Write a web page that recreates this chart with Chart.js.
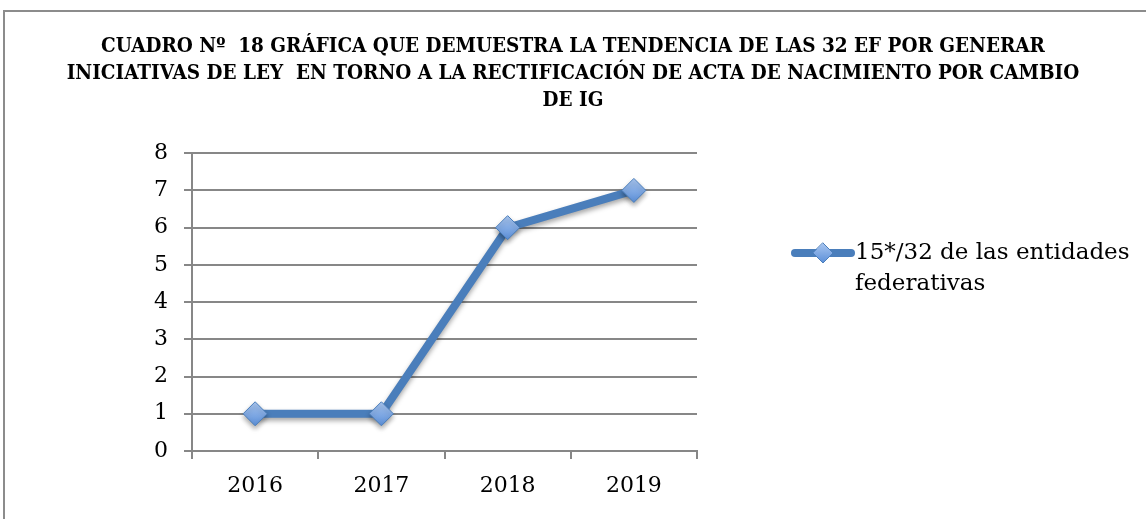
<!DOCTYPE html>
<html>
<head>
<meta charset="utf-8">
<script src="https://cdn.jsdelivr.net/npm/chart.js@4/dist/chart.umd.min.js"></script>
<style>
  html, body { margin: 0; padding: 0; background: #fff; overflow: hidden; }
  #wrap { position: relative; width: 1146px; height: 519px; }
  #frame { position: absolute; left: 3px; top: 10px; width: 1200px; height: 600px; border: 2px solid #8c8c8c; box-sizing: border-box; }
  canvas { position: absolute; left: 0; top: 0; }
</style>
</head>
<body>
<div id="wrap">
  <div id="frame"></div>
  <canvas id="chart" width="1146" height="519"></canvas>
</div>
<script>
// data
var years = ['2016', '2017', '2018', '2019'];
var entidades = [1, 1, 6, 7];
var seriesLabel = ['15*/32 de las entidades', 'federativas'];
var titleLines = [
  'CUADRO Nº  18 GRÁFICA QUE DEMUESTRA LA TENDENCIA DE LAS 32 EF POR GENERAR',
  'INICIATIVAS DE LEY  EN TORNO A LA RECTIFICACIÓN DE ACTA DE NACIMIENTO POR CAMBIO',
  'DE IG'
];

var lineBlue = '#4a7ebb';
var gridGray = '#878787';
var serif = "'DejaVu Serif', 'Liberation Serif', serif";

function diamondFill(context) {
  var el = context.element;
  var c = context.chart.ctx;
  if (!el || el.x === undefined) return '#7aa5e2';
  var g = c.createLinearGradient(el.x, el.y - 12, el.x, el.y + 12);
  g.addColorStop(0, '#a9c6f0');
  g.addColorStop(1, '#5b8fd8');
  return g;
}

// soft shadow under the line and markers
var shadow = {
  id: 'shadow',
  beforeDatasetsDraw: function (chart) {
    var c = chart.ctx;
    c.save();
    c.shadowColor = 'rgba(0,0,0,0.35)';
    c.shadowBlur = 5;
    c.shadowOffsetY = 3;
  },
  afterDatasetsDraw: function (chart) { chart.ctx.restore(); }
};

// legend drawn by hand so it can wrap over two lines like the original
var sideLegend = {
  id: 'sideLegend',
  afterDraw: function (chart) {
    var c = chart.ctx;
    var ds = chart.data.datasets[0];
    var x0 = chart.chartArea.right + 98, y0 = 253;
    c.save();
    c.strokeStyle = lineBlue;
    c.lineWidth = 8;
    c.lineCap = 'round';
    c.beginPath();
    c.moveTo(x0, y0);
    c.lineTo(x0 + 56, y0);
    c.stroke();
    var cx = x0 + 28, r = 10;
    var g = c.createLinearGradient(cx, y0 - r, cx, y0 + r);
    g.addColorStop(0, '#a9c6f0');
    g.addColorStop(1, '#5b8fd8');
    c.fillStyle = g;
    c.strokeStyle = lineBlue;
    c.lineWidth = 1;
    c.beginPath();
    c.moveTo(cx, y0 - r); c.lineTo(cx + r, y0); c.lineTo(cx, y0 + r); c.lineTo(cx - r, y0);
    c.closePath();
    c.fill(); c.stroke();
    c.fillStyle = '#000';
    c.font = '23px ' + serif;
    c.textBaseline = 'middle';
    c.textAlign = 'left';
    ds.label.forEach(function (t, i) {
      c.fillText(t, x0 + 60, y0 + i * 31);
    });
    c.restore();
  }
};

var ctx = document.getElementById('chart').getContext('2d');
var chart = new Chart(ctx, {
  type: 'line',
  data: {
    labels: years,
    datasets: [{
      label: seriesLabel,
      data: entidades,
      borderColor: lineBlue,
      borderWidth: 8,
      backgroundColor: diamondFill,
      pointBackgroundColor: diamondFill,
      pointStyle: 'rectRot',
      pointRadius: 12,
      pointHoverRadius: 12,
      pointBorderColor: lineBlue,
      pointBorderWidth: 1,
      tension: 0
    }]
  },
  options: {
    responsive: false,
    animation: false,
    layout: { padding: 0 },
    plugins: {
      legend: { display: false },
      tooltip: { enabled: false },
      title: {
        display: true,
        text: titleLines,
        color: '#000',
        font: { family: "'DejaVu Serif Condensed', 'Liberation Serif', serif", size: 20.5, weight: 'bold', lineHeight: 1.32 },
        padding: { top: 33, bottom: 39 }
      }
    },
    scales: {
      x: {
        offset: true,
        grid: { offset: true, drawOnChartArea: false, drawTicks: true, tickLength: 8, color: gridGray, lineWidth: 2 },
        border: { color: gridGray, width: 2 },
        ticks: { color: '#000', font: { family: serif, size: 22 }, padding: 14 },
        afterFit: function (s) { s.height = 68; }
      },
      y: {
        min: 0,
        max: 8,
        grid: { color: gridGray, lineWidth: 2, tickLength: 8 },
        border: { color: gridGray, width: 2 },
        ticks: { stepSize: 1, color: '#000', font: { family: serif, size: 22 }, padding: 16 },
        afterFit: function (s) { s.width = 192; }
      },
      // empty axis on the right that only reserves room for the legend
      side: {
        position: 'right',
        display: true,
        grid: { display: false },
        border: { display: false },
        ticks: { display: false },
        afterFit: function (s) { s.width = 449; }
      }
    }
  },
  plugins: [shadow, sideLegend]
});
</script>
</body>
</html>
